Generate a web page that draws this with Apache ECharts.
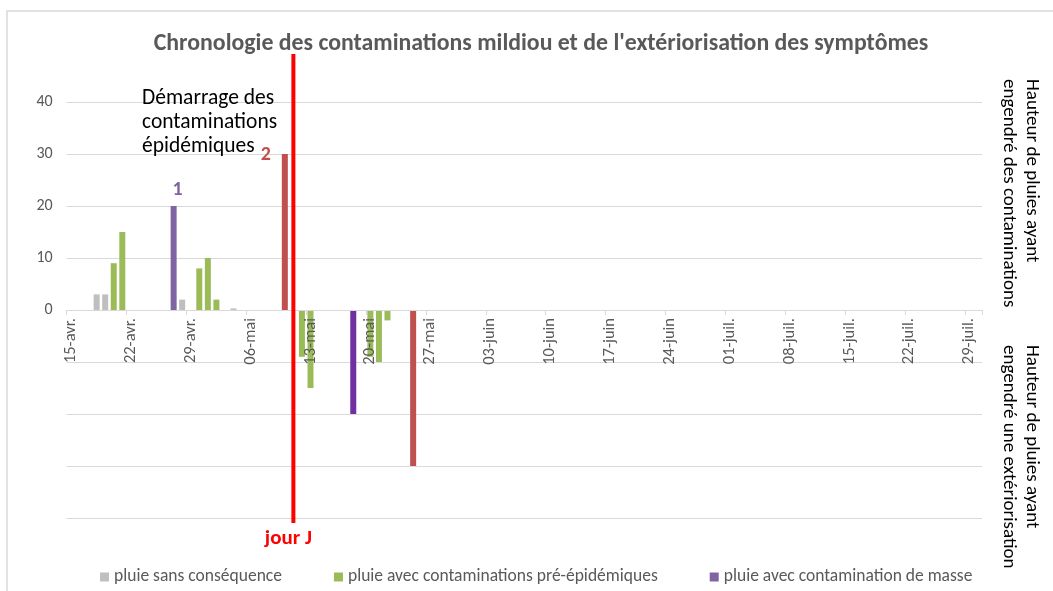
<!DOCTYPE html>
<html>
<head>
<meta charset="utf-8">
<script src="https://cdn.jsdelivr.net/npm/echarts@6/dist/echarts.min.js"></script>
<style>
  html, body { margin: 0; padding: 0; background: #fff; }
  #chart { width: 1053px; height: 591px; }
</style>
</head>
<body>
<div id="chart"></div>
<script>
// one category per day, 15-avr. -> 30-juil.
const months = [['avr.', 15, 30], ['mai', 1, 31], ['juin', 1, 30], ['juil.', 1, 30]];
const days = [];
months.forEach(([m, from, to]) => {
  for (let d = from; d <= to; d++) days.push(String(d).padStart(2, '0') + '-' + m);
});

// hauteur de pluie (mm) ; positif = contamination, negatif = exteriorisation
const pluieSansConsequence = [['18-avr.', 3], ['19-avr.', 3], ['28-avr.', 2], ['04-mai', 0.3]];
const pluiePreEpidemique = [
  ['20-avr.', 9], ['21-avr.', 15], ['30-avr.', 8], ['01-mai', 10], ['02-mai', 2],
  ['12-mai', -9], ['13-mai', -15], ['20-mai', -9], ['21-mai', -10], ['22-mai', -2]
];
const pluieMasse = [['27-avr.', 20], ['18-mai', -20]];
const pluieEpidemique = [['10-mai', 30], ['25-mai', -30]];
const jourJ = '11-mai';

const FONT = 'Carlito, Lato, sans-serif';
const GREY = '#595959';

const chart = echarts.init(document.getElementById('chart'));

chart.setOption({
  animation: false,
  textStyle: { fontFamily: FONT },
  title: {
    text: 'Chronologie des contaminations mildiou et de l\'extériorisation des symptômes',
    left: 536, top: 27, textAlign: 'center',
    textStyle: { fontSize: 23.8, fontWeight: 'bold', color: GREY, fontFamily: FONT }
  },
  legend: {
    data: ['pluie sans conséquence', 'pluie avec contaminations pré-épidémiques', 'pluie avec contamination de masse'],
    left: 95, top: 563,
    icon: 'rect', itemWidth: 9, itemHeight: 9, itemGap: 52,
    textStyle: { fontSize: 17.5, color: GREY, fontFamily: FONT }
  },
  grid: { left: 66.7, right: 71, top: 102, bottom: 73, outerBoundsMode: 'none' },
  xAxis: {
    type: 'category',
    data: days,
    boundaryGap: true,
    offset: -208,
    z: 3,
    axisLine: { onZero: false, lineStyle: { color: '#d9d9d9' } },
    axisTick: { show: true, interval: 6, length: 5, lineStyle: { color: '#d9d9d9' } },
    axisLabel: { interval: 6, rotate: 90, margin: 8, fontSize: 16.5, color: GREY, fontFamily: FONT }
  },
  yAxis: {
    type: 'value', min: -40, max: 40, interval: 10,
    axisLine: { show: false }, axisTick: { show: false },
    axisLabel: { margin: 14, fontSize: 16, color: GREY, fontFamily: FONT, formatter: v => (v >= 0 ? v : '') },
    splitLine: { lineStyle: { color: '#d9d9d9' } }
  },
  series: [
    { name: 'pluie sans conséquence', type: 'bar', stack: 'p', barWidth: 6, color: '#BFBFBF', data: pluieSansConsequence },
    { name: 'pluie avec contaminations pré-épidémiques', type: 'bar', stack: 'p', barWidth: 6, color: '#9BBB59', data: pluiePreEpidemique },
    {
      name: 'pluie avec contamination de masse', type: 'bar', stack: 'p', barWidth: 6, color: '#8064A2',
      data: pluieMasse.map(d => (d[1] < 0 ? { value: d, itemStyle: { color: '#7030A0' } } : d)),
      markPoint: {
        symbol: 'circle', symbolSize: 0,
        label: { show: true, formatter: '1', offset: [4, -16], fontSize: 20, fontWeight: 'bold', color: '#8064A2', fontFamily: FONT },
        data: [{ coord: pluieMasse[0] }]
      }
    },
    {
      name: 'contaminations épidémiques', type: 'bar', stack: 'p', barWidth: 6, color: '#C0504D',
      data: pluieEpidemique,
      markPoint: {
        symbol: 'circle', symbolSize: 0,
        label: { show: true, formatter: '2', offset: [-19, 1], fontSize: 20, fontWeight: 'bold', color: '#C0504D', fontFamily: FONT },
        data: [{ coord: pluieEpidemique[0] }]
      }
    }
  ]
});

const xJ = chart.convertToPixel({ xAxisIndex: 0 }, jourJ);

chart.setOption({
  graphic: [
    { type: 'rect', shape: { x: 7, y: 11, width: 1100, height: 700 }, style: { fill: 'none', stroke: '#d9d9d9', lineWidth: 1.5 }, silent: true },
    { type: 'line', shape: { x1: xJ, y1: 54, x2: xJ, y2: 523 }, style: { stroke: '#FF0000', lineWidth: 4 }, z: 100 },
    { type: 'text', x: xJ - 5, y: 539, style: { text: 'jour J', fill: '#FF0000', font: 'bold 21px ' + FONT, textAlign: 'center', textVerticalAlign: 'middle' } },
    { type: 'text', x: 142, y: 87, style: { text: 'Démarrage des\ncontaminations\népidémiques', fill: '#000', font: '21.5px ' + FONT, lineHeight: 24, textAlign: 'left', textVerticalAlign: 'top' } },
    { type: 'text', x: 1043, y: 79, rotation: -Math.PI / 2, style: { text: 'Hauteur de pluies ayant\nengendré des contaminations', fill: '#000', font: '19px ' + FONT, lineHeight: 23, textAlign: 'left', textVerticalAlign: 'top' } },
    { type: 'text', x: 1043, y: 345, rotation: -Math.PI / 2, style: { text: 'Hauteur de pluies ayant\nengendré une extériorisation', fill: '#000', font: '19px ' + FONT, lineHeight: 23, textAlign: 'left', textVerticalAlign: 'top' } }
  ]
});
</script>
</body>
</html>
